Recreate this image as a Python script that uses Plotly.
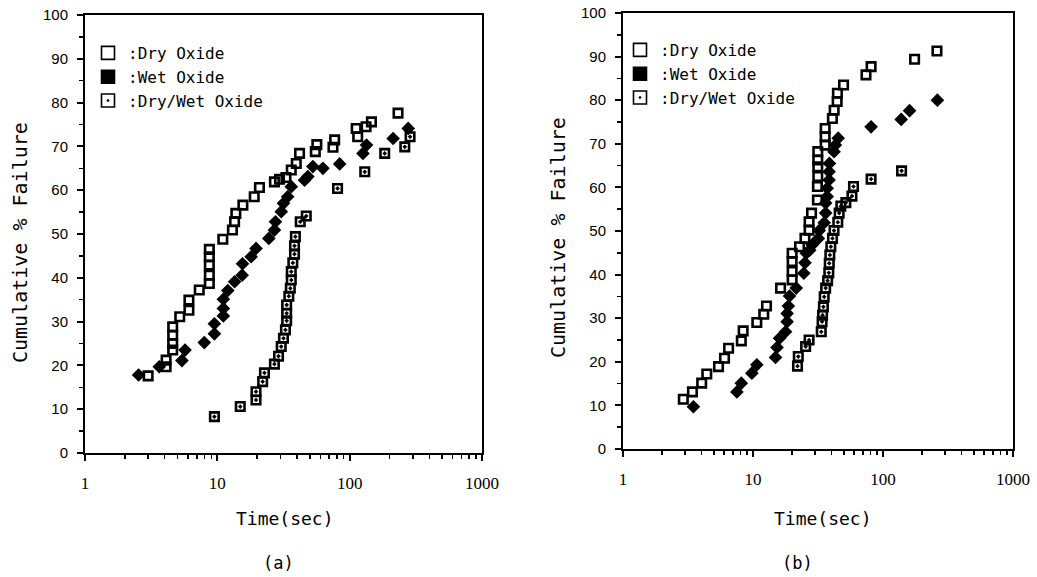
import plotly.graph_objects as go

W, H = 1037, 577

# ---------------- data: panel (a) ----------------
dry_a_x = [3.0, 4.1, 4.1, 4.6, 4.6, 4.6, 4.6, 5.2, 6.1, 6.1, 7.3, 8.7, 8.7, 8.7, 8.7, 8.7,
           11.0, 13.0, 13.5, 13.8, 15.6, 19.0, 20.8, 27.0, 29.5, 33.0, 36.2, 39.5, 41.8,
           55.0, 56.5, 74.8, 77.0, 112, 115, 133, 146, 232]
dry_a_y = [17.6, 19.7, 21.2, 23.5, 25.0, 26.9, 28.8, 31.1, 32.6, 34.9, 37.2, 38.7, 40.6, 42.9, 44.8, 46.5,
           48.8, 50.9, 52.8, 54.7, 56.6, 58.5, 60.6, 61.9, 62.5, 62.9, 64.6, 66.1, 68.4,
           68.8, 70.4, 69.8, 71.5, 74.1, 72.2, 74.5, 75.6, 77.6]

wet_a_x = [2.54, 3.64, 5.4, 5.7, 7.97, 9.5, 9.5, 11.1, 11.1, 11.1, 12.0, 13.5, 15.4, 15.5, 18.0, 19.6,
           24.5, 27.0, 27.5, 30.4, 31.6, 34.0, 36.2, 45.6, 48.3, 52.7, 62.8, 84, 126, 134, 213, 277]
wet_a_y = [17.8, 19.7, 21.1, 23.5, 25.2, 27.2, 29.5, 31.3, 33.0, 35.1, 37.1, 39.1, 40.6, 43.2, 44.8, 46.7,
           49.0, 50.9, 52.8, 55.1, 57.0, 58.5, 60.8, 62.3, 63.1, 65.4, 65.0, 66.0, 68.4, 70.3, 71.8, 74.1]

dw_a_x = [9.5, 14.9, 19.6, 19.6, 22.0, 22.7, 27.0, 29.0, 30.4, 31.6, 32.7, 33.4, 33.4, 33.4, 34.7,
          35.6, 36.2, 36.2, 37.2, 38.3, 38.3, 38.9, 42.3, 47.0, 81, 130, 184, 261, 286]
dw_a_y = [8.3, 10.6, 12.1, 14.0, 16.3, 18.3, 20.3, 22.1, 24.3, 26.2, 28.1, 30.2, 31.9, 33.8, 35.8,
          37.6, 39.5, 41.4, 43.4, 45.4, 47.3, 49.4, 52.8, 54.1, 60.4, 64.2, 68.4, 69.9, 72.2]

# ---------------- data: panel (b) ----------------
dry_b_x = [2.91, 3.42, 4.03, 4.41, 5.43, 6.04, 6.49, 8.13, 8.4, 10.7, 12.1, 12.7, 16.3, 20.0, 20.0,
           20.0, 20.0, 22.8, 25.1, 27.0, 27.0, 28.2, 31.3, 31.3, 31.5, 31.5, 31.5, 31.5, 35.9, 35.9,
           35.9, 40.8, 42.1, 44.4, 44.6, 49.7, 74, 81, 175, 260]
dry_b_y = [11.4, 13.1, 15.1, 17.2, 18.9, 20.8, 23.1, 24.8, 27.1, 29.0, 30.9, 32.8, 36.9, 38.8, 40.7,
           43.0, 44.9, 46.4, 48.3, 50.2, 52.1, 54.1, 57.1, 60.2, 62.5, 64.7, 66.3, 68.2, 69.7, 71.6,
           73.5, 75.8, 77.7, 79.7, 81.6, 83.5, 85.8, 87.7, 89.4, 91.3]

wet_b_x = [3.48, 7.52, 8.13, 9.8, 10.7, 14.9, 15.3, 16.0, 17.8, 18.3, 18.3, 18.7, 19.1, 21.5, 24.6,
           25.1, 25.7, 27.3, 28.5, 31.8, 32.3, 35.3, 36.2, 36.2, 37.2, 37.2, 38.5, 38.5, 38.7, 42.0,
           43.0, 45.2, 81, 138, 160, 262]
wet_b_y = [9.7, 13.1, 15.1, 17.4, 19.3, 21.0, 23.3, 25.4, 26.9, 29.2, 31.1, 32.8, 35.1, 36.9, 40.3,
           42.7, 44.9, 45.6, 46.8, 48.3, 50.1, 51.9, 54.1, 56.4, 57.9, 59.8, 61.7, 63.6, 65.5, 68.2,
           69.7, 71.3, 73.9, 75.6, 77.6, 80.0]

dw_b_x = [22.0, 22.3, 25.4, 27.0, 33.5, 34.0, 34.3, 34.8, 35.3, 36.2, 37.5, 38.3, 38.6, 39.0, 39.7,
          40.9, 42.0, 44.9, 46.0, 47.4, 51.8, 57.7, 59.3, 81, 139]
dw_b_y = [19.0, 21.2, 23.5, 25.0, 26.9, 29.2, 30.7, 32.6, 34.9, 36.9, 38.6, 40.4, 42.6, 44.5, 46.4,
          48.3, 50.1, 52.0, 54.1, 55.7, 56.5, 58.0, 60.2, 61.9, 63.8]

legend_names = [":Dry Oxide", ":Wet Oxide", ":Dry/Wet Oxide"]
x_tick_vals = [1, 10, 100, 1000]
x_tick_text = ["1", "10", "100", "1000"]
y_tick_vals = list(range(0, 101, 10))

# ---------------- styling ----------------
MONO = "DejaVu Sans Mono"
BLACK = "#000000"

def px_x(p):
    return p / W

def px_y(p):
    return 1 - p / H

fig = go.Figure()

panels = [
    (dry_a_x, dry_a_y, wet_a_x, wet_a_y, dw_a_x, dw_a_y, "x", "y", "legend"),
    (dry_b_x, dry_b_y, wet_b_x, wet_b_y, dw_b_x, dw_b_y, "x2", "y2", "legend2"),
]

for (dx, dy, wx, wy, ux, uy, xa, ya, lg) in panels:
    fig.add_trace(go.Scatter(x=dx, y=dy, mode="markers", xaxis=xa, yaxis=ya, showlegend=False,
                             marker=dict(symbol="square-open", size=8.5, color=BLACK,
                                         line=dict(width=2.6, color=BLACK))))
    fig.add_trace(go.Scatter(x=wx, y=wy, mode="markers", xaxis=xa, yaxis=ya, showlegend=False,
                             marker=dict(symbol="diamond", size=10.5, color=BLACK,
                                         line=dict(width=0, color=BLACK))))
    fig.add_trace(go.Scatter(x=ux, y=uy, mode="markers", xaxis=xa, yaxis=ya, showlegend=False,
                             marker=dict(symbol="square-open-dot", size=8.5, color=BLACK,
                                         line=dict(width=2.6, color=BLACK))))
    # legend entries
    syms = ["square-open", "square", "square-open-dot"]
    for i, (nm, sy) in enumerate(zip(legend_names, syms)):
        fig.add_trace(go.Scatter(x=[None], y=[None], mode="markers", xaxis=xa, yaxis=ya,
                                 name=nm, legend=lg, legendgroup=f"{lg}{i}",
                                 marker=dict(symbol=sy, size=13, color=BLACK,
                                             line=dict(width=1.6, color=BLACK))))

def xaxis_cfg(domain, anchor):
    return dict(type="log", range=[0, 3], domain=domain, anchor=anchor,
                showline=True, linewidth=2, linecolor=BLACK, mirror=True,
                showgrid=False, zeroline=False,
                tickmode="array", tickvals=x_tick_vals, ticktext=x_tick_text,
                ticks="outside", ticklen=6, tickwidth=2, tickcolor=BLACK,
                ticklabelstandoff=8,
                tickfont=dict(family="Liberation Serif", size=17, color=BLACK),
                minor=dict(ticks="outside", ticklen=4, tickwidth=1.5, tickcolor=BLACK,
                           dtick="D1", showgrid=False),
                automargin=False, fixedrange=True)

def yaxis_cfg(domain, anchor):
    return dict(range=[0, 100], domain=domain, anchor=anchor,
                showline=True, linewidth=2, linecolor=BLACK, mirror=True,
                showgrid=False, zeroline=False,
                tickmode="array", tickvals=y_tick_vals,
                ticks="outside", ticklen=6, tickwidth=2, tickcolor=BLACK,
                ticklabelstandoff=6,
                tickfont=dict(family="Liberation Sans", size=15, color=BLACK),
                minor=dict(ticks="outside", ticklen=4, tickwidth=1.5, tickcolor=BLACK,
                           dtick=5, showgrid=False),
                automargin=False, fixedrange=True)

fig.update_layout(
    width=W, height=H,
    margin=dict(l=0, r=0, t=0, b=0),
    paper_bgcolor="white", plot_bgcolor="white",
    xaxis=xaxis_cfg([px_x(85), px_x(482)], "y"),
    yaxis=yaxis_cfg([px_y(453), px_y(15)], "x"),
    xaxis2=xaxis_cfg([px_x(623), px_x(1013)], "y2"),
    yaxis2=yaxis_cfg([px_y(449), px_y(13)], "x2"),
    legend=dict(x=px_x(88), y=px_y(36), xanchor="left", yanchor="top",
                font=dict(family=MONO, size=16, color=BLACK),
                bgcolor="rgba(0,0,0,0)", borderwidth=0, tracegroupgap=1,
                itemwidth=30, traceorder="normal"),
    legend2=dict(x=px_x(620), y=px_y(33), xanchor="left", yanchor="top",
                 font=dict(family=MONO, size=16, color=BLACK),
                 bgcolor="rgba(0,0,0,0)", borderwidth=0, tracegroupgap=1,
                 itemwidth=30, traceorder="normal"),
    showlegend=True,
)

annos = [
    ("Time(sec)", 285, 518, 0, 18),
    ("(a)", 278, 563, 0, 17),
    ("Time(sec)", 823, 518, 0, 18),
    ("(b)", 797, 563, 0, 17),
    ("Cumulative % Failure", 20, 243, -90, 20),
    ("Cumulative % Failure", 558, 238, -90, 20),
]
for txt, ax_, ay_, ang, sz in annos:
    fig.add_annotation(text=txt, xref="paper", yref="paper", x=px_x(ax_), y=px_y(ay_),
                       xanchor="center", yanchor="middle", showarrow=False, textangle=ang,
                       font=dict(family=MONO, size=sz, color=BLACK))

fig.write_html("out.html",
               config={"displayModeBar": False, "staticPlot": True},
               post_script="document.body.style.margin='0';document.body.style.overflow='hidden';")
